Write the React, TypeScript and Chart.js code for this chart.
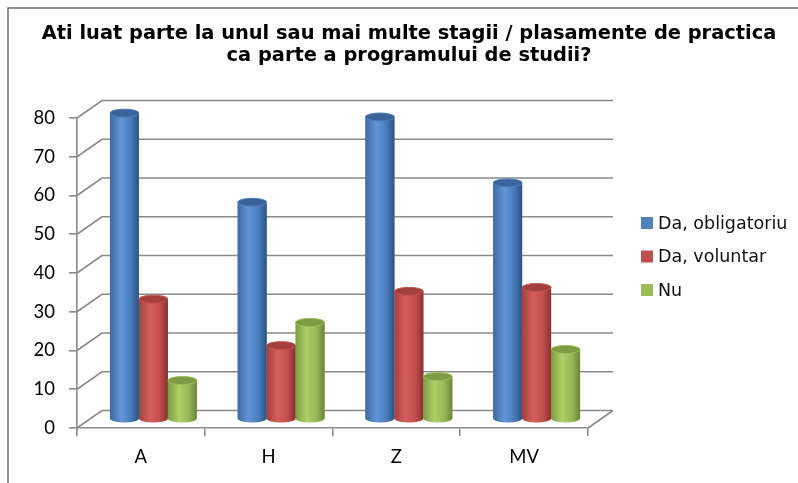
import React, { useEffect, useRef } from "react";
import { Chart, registerables } from "chart.js";

Chart.register(...registerables);

const categories = ["A", "H", "Z", "MV"];
const seriesLabels = ["Da, obligatoriu", "Da, voluntar", "Nu"];
const obligatoriu = [79, 56, 78, 61];
const voluntar = [31, 19, 33, 34];
const nu = [10, 25, 11, 18];
const yMax = 80;
const yStep = 10;
const titleLines = [
  "Ati luat parte la unul sau mai multe stagii / plasamente de practica",
  "ca parte a programului de studii?",
];

const FONT = "Lato, 'Liberation Sans', sans-serif";
const WIDE = "'DejaVu Sans', 'Liberation Sans', sans-serif";
const GRID = "#8a8a8a";
const DX = 25; // depth offset x
const DY = -17.5; // depth offset y

const palettes = [
  { flat: "#4F81BD", stops: ["#3d6aa3", "#6196d6", "#4a7cba", "#2c5283"], top: "#3a6399", topEdge: "#4f7fbb" },
  { flat: "#C0504D", stops: ["#a3403e", "#d65f5c", "#c04f4c", "#8a302e"], top: "#a33f3c", topEdge: "#c45451" },
  { flat: "#9BBB59", stops: ["#7e9d44", "#add068", "#97b857", "#6b8636"], top: "#7d9c43", topEdge: "#9bbb59" },
];

function drawCylinder(ctx: CanvasRenderingContext2D, cx: number, top: number, base: number, w: number, p: any) {
  const rx = w / 2;
  const ry = 4;
  const l = cx - rx;
  const r = cx + rx;
  const g = ctx.createLinearGradient(l, 0, r, 0);
  g.addColorStop(0, p.stops[0]);
  g.addColorStop(0.38, p.stops[1]);
  g.addColorStop(0.72, p.stops[2]);
  g.addColorStop(1, p.stops[3]);
  ctx.beginPath();
  ctx.moveTo(l, top);
  ctx.lineTo(l, base);
  ctx.ellipse(cx, base, rx, ry, 0, Math.PI, 0, true);
  ctx.lineTo(r, top);
  ctx.closePath();
  ctx.fillStyle = g;
  ctx.fill();
  ctx.beginPath();
  ctx.ellipse(cx, top, rx, ry, 0, 0, Math.PI * 2);
  ctx.fillStyle = p.top;
  ctx.fill();
  ctx.lineWidth = 1;
  ctx.strokeStyle = p.topEdge;
  ctx.stroke();
}

const frame3d = {
  id: "frame3d",
  beforeDraw(chart: any) {
    const ctx = chart.ctx;
    ctx.save();
    ctx.fillStyle = "#ffffff";
    ctx.fillRect(0, 0, chart.width, chart.height);
    ctx.strokeStyle = "#6e6e6e";
    ctx.lineWidth = 1.5;
    ctx.beginPath();
    ctx.moveTo(8, chart.height);
    ctx.lineTo(8, 8);
    ctx.lineTo(chart.width, 8);
    ctx.stroke();
    ctx.restore();
  },
  beforeDatasetsDraw(chart: any) {
    const ctx = chart.ctx;
    const { left, right, bottom } = chart.chartArea;
    const ys = chart.scales.y;
    ctx.save();
    ctx.strokeStyle = GRID;
    ctx.lineWidth = 1.6;
    for (let v = 0; v <= yMax; v += yStep) {
      const y = ys.getPixelForValue(v);
      ctx.beginPath();
      ctx.moveTo(left, y);
      ctx.lineTo(left + DX, y + DY);
      ctx.lineTo(right + DX, y + DY);
      ctx.stroke();
    }
    ctx.beginPath();
    ctx.moveTo(right, bottom);
    ctx.lineTo(right + DX, bottom + DY);
    ctx.stroke();
    ctx.restore();
    ctx.save();
    ctx.translate(DX / 2, DY / 2);
  },
  afterDatasetsDraw(chart: any) {
    const ctx = chart.ctx;
    const n = chart.data.labels.length;
    for (let i = 0; i < n; i++) {
      chart.data.datasets.forEach((_: any, d: number) => {
        const el = chart.getDatasetMeta(d).data[i];
        const { x, y, base, width } = el.getProps(["x", "y", "base", "width"], true);
        drawCylinder(ctx, x, y, base, width, palettes[d]);
      });
    }
    ctx.restore();
  },
  afterDraw(chart: any) {
    const ctx = chart.ctx;
    ctx.save();
    ctx.font = `17.5px ${WIDE}`;
    ctx.textBaseline = "middle";
    ctx.textAlign = "left";
    chart.data.datasets.forEach((ds: any, d: number) => {
      const cy = 223 + d * 33.5;
      ctx.fillStyle = palettes[d].flat;
      ctx.fillRect(641, cy - 6, 12, 12);
      ctx.fillStyle = "#111";
      ctx.fillText(ds.label, 658, cy + 1);
    });
    ctx.restore();
  },
};

export default function App() {
  const ref = useRef<HTMLCanvasElement>(null);
  useEffect(() => {
    if (!ref.current) return;
    const series = [obligatoriu, voluntar, nu];
    const chart = new Chart(ref.current, {
      type: "bar",
      data: {
        labels: categories,
        datasets: series.map((vals, i) => ({
          label: seriesLabels[i],
          data: vals,
          backgroundColor: palettes[i].flat,
          borderWidth: 0,
          categoryPercentage: 0.68,
          barPercentage: 1,
          clip: false as any,
        })),
      },
      options: {
        responsive: false,
        animation: false,
        layout: { padding: { left: 20, right: 0, top: 0, bottom: 0 } },
        plugins: {
          legend: { display: false },
          tooltip: { enabled: false },
          title: {
            display: true,
            text: titleLines,
            color: "#000",
            font: { family: WIDE, size: 19.4, weight: "bold", lineHeight: "22px" },
            padding: { top: 23, bottom: 51 },
          },
        },
        scales: {
          x: {
            type: "category",
            grid: { display: true, drawOnChartArea: false, drawTicks: true, tickLength: 8, color: GRID, lineWidth: 1.6, offset: true },
            border: { display: true, color: GRID, width: 1.6 },
            ticks: { color: "#000", font: { family: FONT, size: 18.5 }, padding: 10 },
            afterFit: (s: any) => { s.height = 55; },
          },
          y: {
            type: "linear",
            min: 0,
            max: yMax,
            ticks: { stepSize: yStep, color: "#000", font: { family: FONT, size: 18.5 }, padding: 14 },
            grid: { display: true, drawOnChartArea: false, drawTicks: true, tickLength: 8, color: GRID, lineWidth: 1.6 },
            border: { display: true, color: GRID, width: 1.6 },
            afterFit: (s: any) => { s.width = 57; },
          },
          yR: {
            type: "linear",
            position: "right",
            display: true,
            grid: { display: false },
            border: { display: false },
            ticks: { display: false },
            afterFit: (s: any) => { s.width = 210; },
          },
        },
      },
      plugins: [frame3d],
    });
    return () => chart.destroy();
  }, []);
  return (
    <div style={{ position: "absolute", left: 0, top: 0, width: 798, height: 483 }}>
      <canvas ref={ref} width={798} height={483} />
    </div>
  );
}
